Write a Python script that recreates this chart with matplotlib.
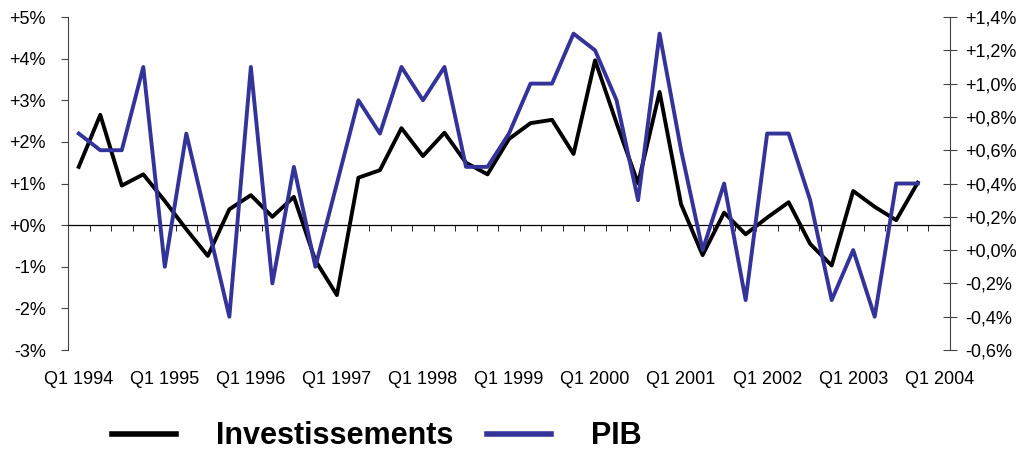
import matplotlib
matplotlib.use("Agg")
import matplotlib.pyplot as plt

plt.rcParams['font.family'] = ['Liberation Sans', 'DejaVu Sans']

# quarters Q1 1994 .. Q4 2003 (axis runs to Q1 2004)
n_cat = 41
investissements = [1.40, 2.65, 0.95, 1.22, 0.58, -0.10, -0.74, 0.38, 0.72, 0.20,
                   0.68, -0.85, -1.68, 1.14, 1.32, 2.33, 1.66, 2.22, 1.50, 1.22,
                   2.07, 2.45, 2.53, 1.71, 3.96, 2.45, 1.00, 3.20, 0.50, -0.72,
                   0.30, -0.22, 0.18, 0.55, -0.45, -0.97, 0.82, 0.44, 0.12, 1.02]
pib = [0.7, 0.6, 0.6, 1.1, -0.1, 0.7, 0.15, -0.4, 1.1, -0.2,
       0.5, -0.1, 0.4, 0.9, 0.7, 1.1, 0.9, 1.1, 0.5, 0.5,
       0.7, 1.0, 1.0, 1.3, 1.2, 0.9, 0.3, 1.3, 0.6, 0.0,
       0.4, -0.3, 0.7, 0.7, 0.3, -0.3, 0.0, -0.4, 0.4, 0.4]

xlabels = ["Q1 1994", "Q1 1995", "Q1 1996", "Q1 1997", "Q1 1998", "Q1 1999",
           "Q1 2000", "Q1 2001", "Q1 2002", "Q1 2003", "Q1 2004"]
left_ticks = [-3, -2, -1, 0, 1, 2, 3, 4, 5]
left_labels = ["-3%", "-2%", "-1%", "+0%", "+1%", "+2%", "+3%", "+4%", "+5%"]
right_ticks = [-0.6, -0.4, -0.2, 0.0, 0.2, 0.4, 0.6, 0.8, 1.0, 1.2, 1.4]
right_labels = ["-0,6%", "-0,4%", "-0,2%", "+0,0%", "+0,2%", "+0,4%", "+0,6%",
                "+0,8%", "+1,0%", "+1,2%", "+1,4%"]

fig = plt.figure(figsize=(10.18, 4.5), dpi=100)
ax = fig.add_axes([0.0668, 0.2222, 0.8664, 0.74])
ax2 = ax.twinx()

x = list(range(len(investissements)))
l1, = ax.plot(x, investissements, color='black', lw=2.8, label='Investissements', zorder=3)
l2, = ax2.plot(x, pib, color='#333399', lw=2.8, label='PIB', zorder=3)

ax.set_xlim(-0.5, n_cat - 0.5)
ax.set_ylim(-3, 5)
ax2.set_ylim(-0.6, 1.4)

ax.set_yticks(left_ticks, left_labels)
ax2.set_yticks(right_ticks, right_labels)

for s in ['top', 'right']:
    ax.spines[s].set_visible(False)
for s in ['top', 'left', 'bottom']:
    ax2.spines[s].set_visible(False)
ax.spines['left'].set_color('#444444')
ax2.spines['right'].set_color('#444444')
ax.spines['bottom'].set_position(('data', 0))
ax.spines['bottom'].set_color('black')
ax.spines['bottom'].set_linewidth(0.9)

ax.set_xticks([])
ax.set_xticks([i - 0.5 for i in range(1, n_cat)], minor=True)
ax.tick_params(axis='x', which='minor', direction='out', length=4, color='black')
ax.tick_params(axis='y', direction='out', length=5, color='#444444', labelsize=13, pad=11)
ax2.tick_params(axis='y', direction='inout', length=10, color='#444444', labelsize=13, pad=6)

sec = ax.secondary_xaxis('bottom')
sec.set_xticks(list(range(0, n_cat, 4)), xlabels)
sec.tick_params(length=0, labelsize=13, pad=15)
sec.spines['bottom'].set_visible(False)

fig.legend([l1, l2], ['Investissements', 'PIB'], loc='center', ncol=2,
           bbox_to_anchor=(0.37, 0.03), frameon=False,
           prop={'weight': 'bold', 'size': 22}, handlelength=2.1,
           handletextpad=1.3, columnspacing=1.1, borderpad=0.1)
for h in fig.legends[0].legend_handles:
    h.set_linewidth(4)

fig.savefig('out.png', dpi=100)
